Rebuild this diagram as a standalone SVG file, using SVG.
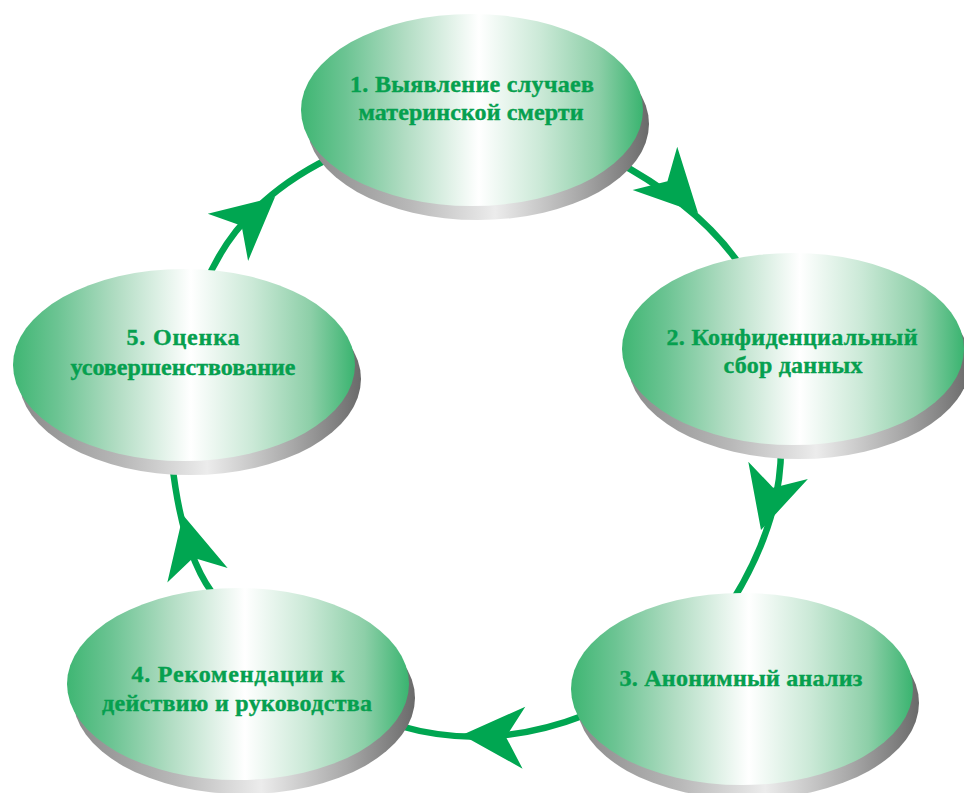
<svg xmlns="http://www.w3.org/2000/svg" xmlns:xlink="http://www.w3.org/1999/xlink" width="964" height="793" viewBox="0 0 964 793">
<defs>
  <linearGradient id="face" x1="0" y1="0" x2="1" y2="0">
    <stop offset="0" stop-color="#3fb673"/>
    <stop offset="0.13" stop-color="#6cc493"/>
    <stop offset="0.3" stop-color="#b0dcc2"/>
    <stop offset="0.52" stop-color="#ffffff"/>
    <stop offset="0.7" stop-color="#cbe9d7"/>
    <stop offset="0.87" stop-color="#8dcfa8"/>
    <stop offset="1" stop-color="#3ab470"/>
  </linearGradient>
  <linearGradient id="side" x1="0" y1="0" x2="1" y2="0">
    <stop offset="0" stop-color="#8a8a8a"/>
    <stop offset="0.3" stop-color="#b8b8b8"/>
    <stop offset="0.55" stop-color="#ececec"/>
    <stop offset="0.8" stop-color="#a8a8a8"/>
    <stop offset="1" stop-color="#6a6a6a"/>
  </linearGradient>
  <path id="ah" d="M0,0 L-62,-31 L-44,0 L-62,31 Z"/>
  <style>
    .face { fill: url(#face); }
    .side { fill: url(#side); }
    .lbl { font-family: "Liberation Serif", "DejaVu Serif", serif; font-weight: bold; font-size: 24px; fill: #06a04f; stroke: #06a04f; stroke-width: 0.4; text-anchor: middle; }
    .con { fill: none; stroke: #00a651; stroke-width: 6.5; }
    .head { fill: #00a651; }
  </style>
</defs>
<rect width="964" height="793" fill="#ffffff"/>
<g id="connectors">
  <path class="con" d="M610,158 Q700,205 742,268"/>
  <path class="con" d="M781,445 Q782,520 733,600"/>
  <path class="con" d="M585,715 Q490,752 400,726"/>
  <path class="con" d="M218,600 Q183,560 172,462"/>
  <path class="con" d="M205,285 Q238,203 330,158"/>
  <use class="head" xlink:href="#ah" transform="translate(698,213) rotate(46)"/>
  <use class="head" xlink:href="#ah" transform="translate(761,530) rotate(106)"/>
  <use class="head" xlink:href="#ah" transform="translate(462,735) rotate(182.5)"/>
  <use class="head" xlink:href="#ah" transform="translate(183,515) rotate(-103.5)"/>
  <use class="head" xlink:href="#ah" transform="translate(275,197) rotate(-40.6)"/>
</g>
<g id="node1">
  <ellipse class="side" cx="478" cy="124" rx="171" ry="96"/>
  <ellipse class="face" cx="472" cy="110" rx="171" ry="96"/>
  <text class="lbl" x="472" y="92" textLength="244" lengthAdjust="spacing">1. Выявление случаев</text>
  <text class="lbl" x="471" y="120" textLength="225" lengthAdjust="spacing">материнской смерти</text>
</g>
<g id="node2">
  <ellipse class="side" cx="799" cy="363" rx="171" ry="96"/>
  <ellipse class="face" cx="793" cy="349" rx="171" ry="96"/>
  <text class="lbl" x="792" y="345" textLength="251" lengthAdjust="spacing">2. Конфиденциальный</text>
  <text class="lbl" x="793" y="373" textLength="139" lengthAdjust="spacing">сбор данных</text>
</g>
<g id="node3">
  <ellipse class="side" cx="748" cy="703" rx="171" ry="96"/>
  <ellipse class="face" cx="742" cy="689" rx="171" ry="96"/>
  <text class="lbl" x="741" y="686" textLength="243" lengthAdjust="spacing">3. Анонимный анализ</text>
</g>
<g id="node4">
  <ellipse class="side" cx="244" cy="698" rx="171" ry="96"/>
  <ellipse class="face" cx="238" cy="684" rx="171" ry="96"/>
  <text class="lbl" x="238" y="682" textLength="213" lengthAdjust="spacing">4. Рекомендации к</text>
  <text class="lbl" x="237" y="711" textLength="270" lengthAdjust="spacing">действию и руководства</text>
</g>
<g id="node5">
  <ellipse class="side" cx="190" cy="379" rx="171" ry="96"/>
  <ellipse class="face" cx="184" cy="365" rx="171" ry="96"/>
  <text class="lbl" x="183" y="345" textLength="113" lengthAdjust="spacing">5. Оценка</text>
  <text class="lbl" x="183" y="375" textLength="225" lengthAdjust="spacing">усовершенствование</text>
</g>
</svg>
